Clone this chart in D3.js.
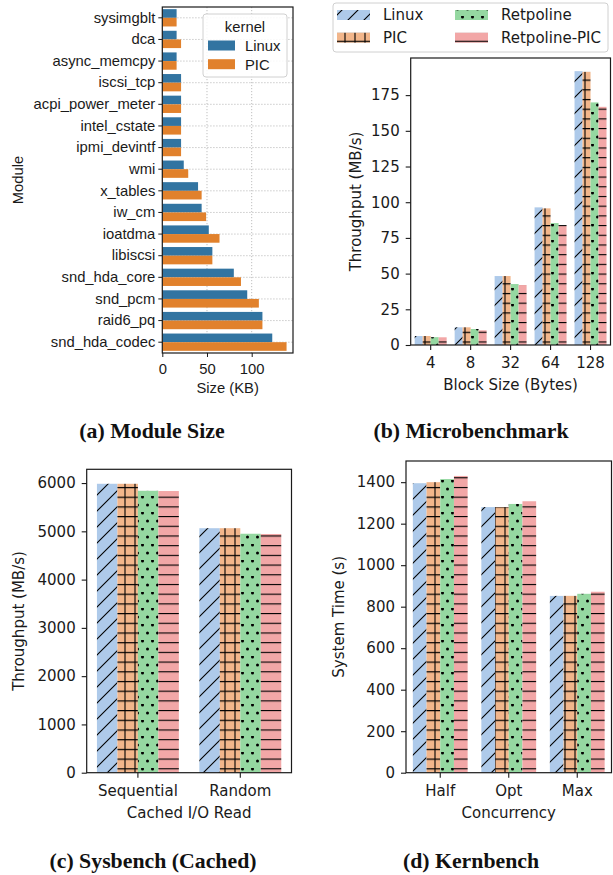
<!DOCTYPE html>
<html>
<head>
<meta charset="utf-8">
<script src="https://cdn.jsdelivr.net/npm/d3@7"></script>
<style>
  html, body { margin: 0; padding: 0; background: #fff; }
  svg { display: block; }
</style>
</head>
<body>
<svg id="chart" width="613" height="875"></svg>
<script>
// ---------- DATA ----------
const moduleNames = ["sysimgblt","dca","async_memcpy","iscsi_tcp","acpi_power_meter","intel_cstate","ipmi_devintf","wmi","x_tables","iw_cm","ioatdma","libiscsi","snd_hda_core","snd_pcm","raid6_pq","snd_hda_codec"];
const moduleLinux = [16, 16, 16, 21, 21, 21, 21, 24, 40, 44, 52, 56, 80, 95, 112, 123];
const modulePIC   = [16, 21, 16, 21, 21, 21, 21, 29, 44, 49, 64, 56, 88, 108, 112, 139];
const moduleTicks = [0, 50, 100];
const kernelNames = ["Linux", "PIC"];

const seriesNames = ["Linux", "PIC", "Retpoline", "Retpoline-PIC"];

const blockSizes = ["4", "8", "32", "64", "128"];
const microLinux = [6.3, 12.4, 48.3, 96.4, 191.8];
const microPIC = [6.3, 12.4, 48.3, 95.7, 191.3];
const microRetpoline = [5.5, 11.2, 42.7, 85.4, 169.9];
const microRetpolinePIC = [5.4, 10.3, 42.0, 84.0, 166.8];
const microTicks = [0, 25, 50, 75, 100, 125, 150, 175];

const sysCats = ["Sequential", "Random"];
const sysLinux = [5985, 5065];
const sysPIC = [5985, 5065];
const sysRetpoline = [5840, 4950];
const sysRetpolinePIC = [5835, 4945];
const sysTicks = [0, 1000, 2000, 3000, 4000, 5000, 6000];

const kernCats = ["Half", "Opt", "Max"];
const kernLinux = [1395, 1280, 852];
const kernPIC = [1400, 1280, 852];
const kernRetpoline = [1415, 1295, 862];
const kernRetpolinePIC = [1430, 1308, 872];
const kernTicks = [0, 200, 400, 600, 800, 1000, 1200, 1400];

// ---------- STYLE ----------
const seabornColors = ["#3274a1", "#e1812c"];
const pastel = ["#aecaea", "#f2b68b", "#95d8a1", "#f2a7a7"];
const FONT = "'DejaVu Sans', sans-serif";
const FONT_A = "'Liberation Sans', Arial, sans-serif";
const FS_A = 14.8;
const SERIF = "'Liberation Serif', 'DejaVu Serif', serif";
const CAP_FS = 21.8;
const INK = "#1a1a1a";

const svg = d3.select("#chart");
const defs = svg.append("defs");

// hatch patterns
function makePattern(id, color, w, h, drawFn) {
  const p = defs.append("pattern").attr("id", id)
    .attr("patternUnits", "userSpaceOnUse").attr("width", w).attr("height", h);
  p.append("rect").attr("width", w).attr("height", h).attr("fill", color);
  drawFn(p);
}
const HW = 1.1;
makePattern("hatch0", pastel[0], 16, 16, p => {
  p.append("path").attr("d", "M0,16 L16,0 M-4,4 L4,-4 M12,20 L20,12")
    .attr("stroke", "#000").attr("stroke-width", HW).attr("fill", "none");
});
makePattern("hatch1", pastel[1], 10, 9.7, p => {
  p.append("path").attr("d", "M5,0 L5,9.7 M0,2.5 L10,2.5")
    .attr("stroke", "#000").attr("stroke-width", HW).attr("fill", "none");
});
makePattern("hatch2", pastel[2], 10, 16, p => {
  p.append("circle").attr("cx", 2.5).attr("cy", 1).attr("r", 1.5).attr("fill", "#000");
  p.append("circle").attr("cx", 7.5).attr("cy", 9).attr("r", 1.5).attr("fill", "#000");
});
makePattern("hatch3", pastel[3], 10, 9.7, p => {
  p.append("path").attr("d", "M0,2.5 L10,2.5")
    .attr("stroke", "#000").attr("stroke-width", HW).attr("fill", "none");
});

// ---------- PANEL (a) ----------
(function () {
  const L = 162.3, R = 293, T = 7, B = 353;
  const g = svg.append("g");
  const x = d3.scaleLinear().domain([0, 146.2]).range([L, R]);
  const y = d3.scaleBand().domain(moduleNames).range([T, B]).padding(0);
  const bw = y.bandwidth();

  // grid
  g.selectAll(".vg").data(moduleTicks.filter(d => d > 0)).join("line")
    .attr("x1", d => x(d)).attr("x2", d => x(d)).attr("y1", T).attr("y2", B)
    .attr("stroke", "#b8b8b8").attr("stroke-width", 0.9).attr("stroke-dasharray", "1.2,1.8");
  g.selectAll(".hg").data(moduleNames).join("line")
    .attr("x1", L).attr("x2", R).attr("y1", d => y(d) + bw / 2).attr("y2", d => y(d) + bw / 2)
    .attr("stroke", "#b8b8b8").attr("stroke-width", 0.9).attr("stroke-dasharray", "1.2,1.8");

  const series = [moduleLinux, modulePIC];
  series.forEach((vals, si) => {
    g.selectAll(".bar" + si).data(moduleNames).join("rect")
      .attr("x", x(0))
      .attr("y", (d) => y(d) + bw * 0.1 + si * bw * 0.4)
      .attr("width", (d, i) => x(vals[i]) - x(0))
      .attr("height", bw * 0.4)
      .attr("fill", seabornColors[si]);
  });

  // frame
  g.append("rect").attr("x", L).attr("y", T).attr("width", R - L).attr("height", B - T)
    .attr("fill", "none").attr("stroke", INK).attr("stroke-width", 1.2);

  // axes
  const xa = g.append("g").attr("transform", `translate(0,${B})`)
    .call(d3.axisBottom(x).tickValues(moduleTicks).tickSize(4).tickPadding(3).tickFormat(d3.format("d")));
  const ya = g.append("g").attr("transform", `translate(${L},0)`)
    .call(d3.axisLeft(y).tickSize(4).tickPadding(3));
  [xa, ya].forEach(a => {
    a.select(".domain").remove();
    a.selectAll("line").attr("stroke", INK).attr("stroke-width", 1);
    a.selectAll("text").attr("font-family", FONT_A).attr("font-size", FS_A).attr("fill", INK);
  });
  xa.selectAll("text").attr("dy", "0.92em");

  g.append("text").attr("x", (L + R) / 2).attr("y", B + 40).attr("text-anchor", "middle")
    .attr("font-family", FONT_A).attr("font-size", FS_A).attr("fill", INK).text("Size (KB)");
  g.append("text").attr("transform", `translate(23,${(T + B) / 2}) rotate(-90)`).attr("text-anchor", "middle")
    .attr("font-family", FONT_A).attr("font-size", FS_A).attr("fill", INK).text("Module");

  // legend
  const lg = g.append("g");
  lg.append("rect").attr("x", 203).attr("y", 14).attr("width", 84).attr("height", 63).attr("rx", 3)
    .attr("fill", "#fff").attr("fill-opacity", 0.85).attr("stroke", "#d0d0d0").attr("stroke-width", 1);
  lg.append("text").attr("x", 245).attr("y", 31.5).attr("text-anchor", "middle")
    .attr("font-family", FONT_A).attr("font-size", FS_A).attr("fill", INK).text("kernel");
  kernelNames.forEach((k, i) => {
    const cy = 45.5 + i * 18.7;
    lg.append("rect").attr("x", 208).attr("y", cy - 5).attr("width", 27).attr("height", 10).attr("fill", seabornColors[i]);
    lg.append("text").attr("x", 245).attr("y", cy + 5.3).attr("font-family", FONT_A).attr("font-size", FS_A)
      .attr("fill", INK).text(k);
  });

  svg.append("text").attr("x", 152).attr("y", 438).attr("text-anchor", "middle")
    .attr("font-family", SERIF).attr("font-weight", "bold").attr("font-size", CAP_FS).attr("fill", "#111")
    .text("(a) Module Size");
})();

// ---------- grouped hatched bar chart ----------
function grouped(cfg) {
  const { L, R, T, B, cats, series, ymax, ticks, xlabel, ylabel, ylabelX } = cfg;
  const g = svg.append("g");
  const x = d3.scaleBand().domain(cats).range([L, R]).padding(0);
  const y = d3.scaleLinear().domain([0, ymax]).range([B, T]);
  const bw = x.bandwidth();
  series.forEach((vals, si) => {
    g.selectAll(".b" + si).data(cats).join("rect")
      .attr("x", d => x(d) + bw * 0.1 + si * bw * 0.2)
      .attr("y", (d, i) => y(vals[i]))
      .attr("width", bw * 0.2)
      .attr("height", (d, i) => y(0) - y(vals[i]))
      .attr("fill", `url(#hatch${si})`);
  });
  g.append("rect").attr("x", L).attr("y", T).attr("width", R - L).attr("height", B - T)
    .attr("fill", "none").attr("stroke", INK).attr("stroke-width", 1.2);
  const xa = g.append("g").attr("transform", `translate(0,${B})`)
    .call(d3.axisBottom(x).tickSize(5).tickPadding(4));
  const ya = g.append("g").attr("transform", `translate(${L},0)`)
    .call(d3.axisLeft(y).tickValues(ticks).tickSize(5).tickPadding(6).tickFormat(d3.format("d")));
  [xa, ya].forEach(a => {
    a.select(".domain").remove();
    a.selectAll("line").attr("stroke", INK).attr("stroke-width", 1.1);
    a.selectAll("text").attr("font-family", FONT).attr("font-size", 15).attr("fill", INK);
  });
  xa.selectAll("text").attr("dy", "0.95em");
  g.append("text").attr("x", (L + R) / 2).attr("y", B + 45).attr("text-anchor", "middle")
    .attr("font-family", FONT).attr("font-size", 15).attr("fill", INK).text(xlabel);
  g.append("text").attr("transform", `translate(${ylabelX},${(T + B) / 2}) rotate(-90)`).attr("text-anchor", "middle")
    .attr("font-family", FONT).attr("font-size", 15).attr("fill", INK).text(ylabel);
}

grouped({ L: 410.7, R: 610.5, T: 58, B: 345, cats: blockSizes,
  series: [microLinux, microPIC, microRetpoline, microRetpolinePIC], ymax: 201, ticks: microTicks,
  xlabel: "Block Size (Bytes)", ylabel: "Throughput (MB/s)", ylabelX: 361 });

grouped({ L: 86.7, R: 291.5, T: 469.3, B: 772.7, cats: sysCats,
  series: [sysLinux, sysPIC, sysRetpoline, sysRetpolinePIC], ymax: 6285, ticks: sysTicks,
  xlabel: "Cached I/O Read", ylabel: "Throughput (MB/s)", ylabelX: 24 });

grouped({ L: 406, R: 611.5, T: 461, B: 772.7, cats: kernCats,
  series: [kernLinux, kernPIC, kernRetpoline, kernRetpolinePIC], ymax: 1502, ticks: kernTicks,
  xlabel: "Concurrency", ylabel: "System Time (s)", ylabelX: 344 });

// legend (b)
(function () {
  const lg = svg.append("g");
  lg.append("rect").attr("x", 333).attr("y", 3).attr("width", 275).attr("height", 49).attr("rx", 3)
    .attr("fill", "#fff").attr("stroke", "#d0d0d0").attr("stroke-width", 1);
  const pos = [[337, 15], [337, 37.7], [455, 15], [455, 37.7]];
  seriesNames.forEach((s, i) => {
    const [sx, cy] = pos[i];
    lg.append("rect").attr("x", sx).attr("y", cy - 5).attr("width", 33).attr("height", 10)
      .attr("fill", `url(#hatch${i})`);
    lg.append("text").attr("x", sx + 46).attr("y", cy + 5.3).attr("font-family", FONT).attr("font-size", 15)
      .attr("fill", INK).text(s);
  });
})();

// captions
svg.append("text").attr("x", 471).attr("y", 438).attr("text-anchor", "middle")
  .attr("font-family", SERIF).attr("font-weight", "bold").attr("font-size", CAP_FS).attr("fill", "#111")
  .text("(b) Microbenchmark");
svg.append("text").attr("x", 153).attr("y", 868).attr("text-anchor", "middle")
  .attr("font-family", SERIF).attr("font-weight", "bold").attr("font-size", CAP_FS).attr("fill", "#111")
  .text("(c) Sysbench (Cached)");
svg.append("text").attr("x", 471).attr("y", 868).attr("text-anchor", "middle")
  .attr("font-family", SERIF).attr("font-weight", "bold").attr("font-size", CAP_FS).attr("fill", "#111")
  .text("(d) Kernbench");
</script>
</body>
</html>
